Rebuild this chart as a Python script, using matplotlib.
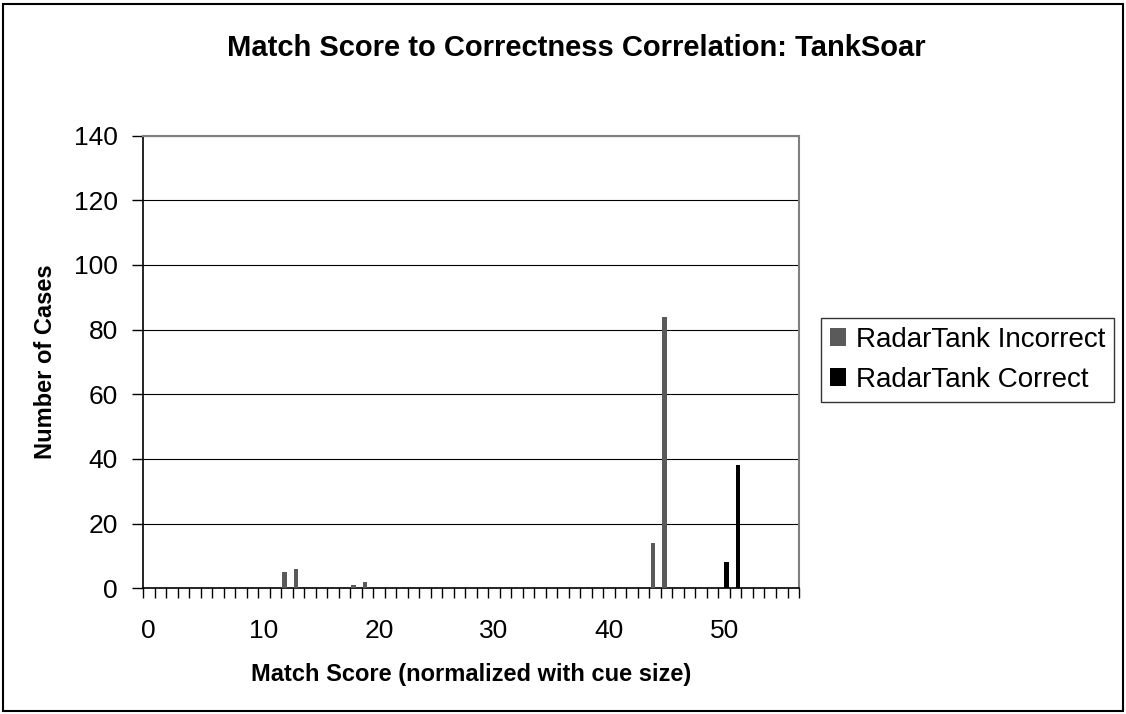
import numpy as np
import matplotlib
matplotlib.use('Agg')
from matplotlib import pyplot as plt
from matplotlib.patches import Rectangle

plt.rcParams['font.family'] = ['Liberation Sans', 'DejaVu Sans']

# categories on the x axis (match score bins)
categories = list(range(57))
incorrect_scores = [12, 13, 18, 19, 44, 45]
incorrect_counts = [5, 6, 1, 2, 14, 84]
correct_scores = [50, 51]
correct_counts = [8, 38]
xtick_labels = [0, 10, 20, 30, 40, 50]
yticks = [0, 20, 40, 60, 80, 100, 120, 140]

col_incorrect = '#5a5a5a'
col_correct = '#000000'

fig = plt.figure(figsize=(11.26, 7.14), dpi=100)
ax = fig.add_axes([0.127, 0.176, 0.5826, 0.634])

bw = 0.4
ax.bar(np.array(incorrect_scores) - 0.2, incorrect_counts, width=bw,
       color=col_incorrect, label='RadarTank Incorrect', zorder=3)
ax.bar(np.array(correct_scores) + 0.2, correct_counts, width=bw,
       color=col_correct, label='RadarTank Correct', zorder=3)

ax.set_xlim(categories[0] - 0.5, categories[-1] + 0.5)
ax.set_ylim(0, 140)

# y axis
ax.set_yticks(yticks)
ax.tick_params(axis='y', which='major', direction='out', length=8, width=1,
               labelsize=19, pad=10)
ax.yaxis.grid(True, color='black', linewidth=0.8, zorder=0)

# x axis: tick marks on category boundaries, labels on centers
ax.set_xticks(xtick_labels)
ax.set_xticklabels([str(v) for v in xtick_labels])
ax.set_xticks(np.arange(categories[0] - 0.5, categories[-1] + 0.6, 1), minor=True)
ax.tick_params(axis='x', which='major', length=0, labelsize=19, pad=22)
ax.tick_params(axis='x', which='minor', direction='out', length=7, width=1)

for s in ['left', 'bottom']:
    ax.spines[s].set_color('black')
    ax.spines[s].set_linewidth(1.2)
for s in ['top', 'right']:
    ax.spines[s].set_color('#808080')
    ax.spines[s].set_linewidth(1.5)

ax.set_xlabel('Match Score (normalized with cue size)', fontsize=17,
              fontweight='bold')
ax.xaxis.set_label_coords(0.5, -0.165)
ax.set_ylabel('Number of Cases', fontsize=17, fontweight='bold', va='center')
ax.yaxis.set_label_coords(-0.149, 0.5)

fig.text(0.512, 0.933, 'Match Score to Correctness Correlation: TankSoar',
         ha='center', va='center', fontsize=21, fontweight='bold')

leg = fig.legend(loc='upper left', bbox_to_anchor=(0.729, 0.5546),
                 fontsize=20, frameon=True, fancybox=False, handlelength=0.6,
                 handleheight=0.6, handletextpad=0.35, borderpad=0.32,
                 labelspacing=0.5, borderaxespad=0)
leg.get_frame().set_edgecolor('black')
leg.get_frame().set_linewidth(1.0)

fig.patches.append(Rectangle((0.003, 0.004), 0.994, 0.991, transform=fig.transFigure,
                             fill=False, edgecolor='black', linewidth=1.5))

fig.savefig('out.png', dpi=100, facecolor='white')
